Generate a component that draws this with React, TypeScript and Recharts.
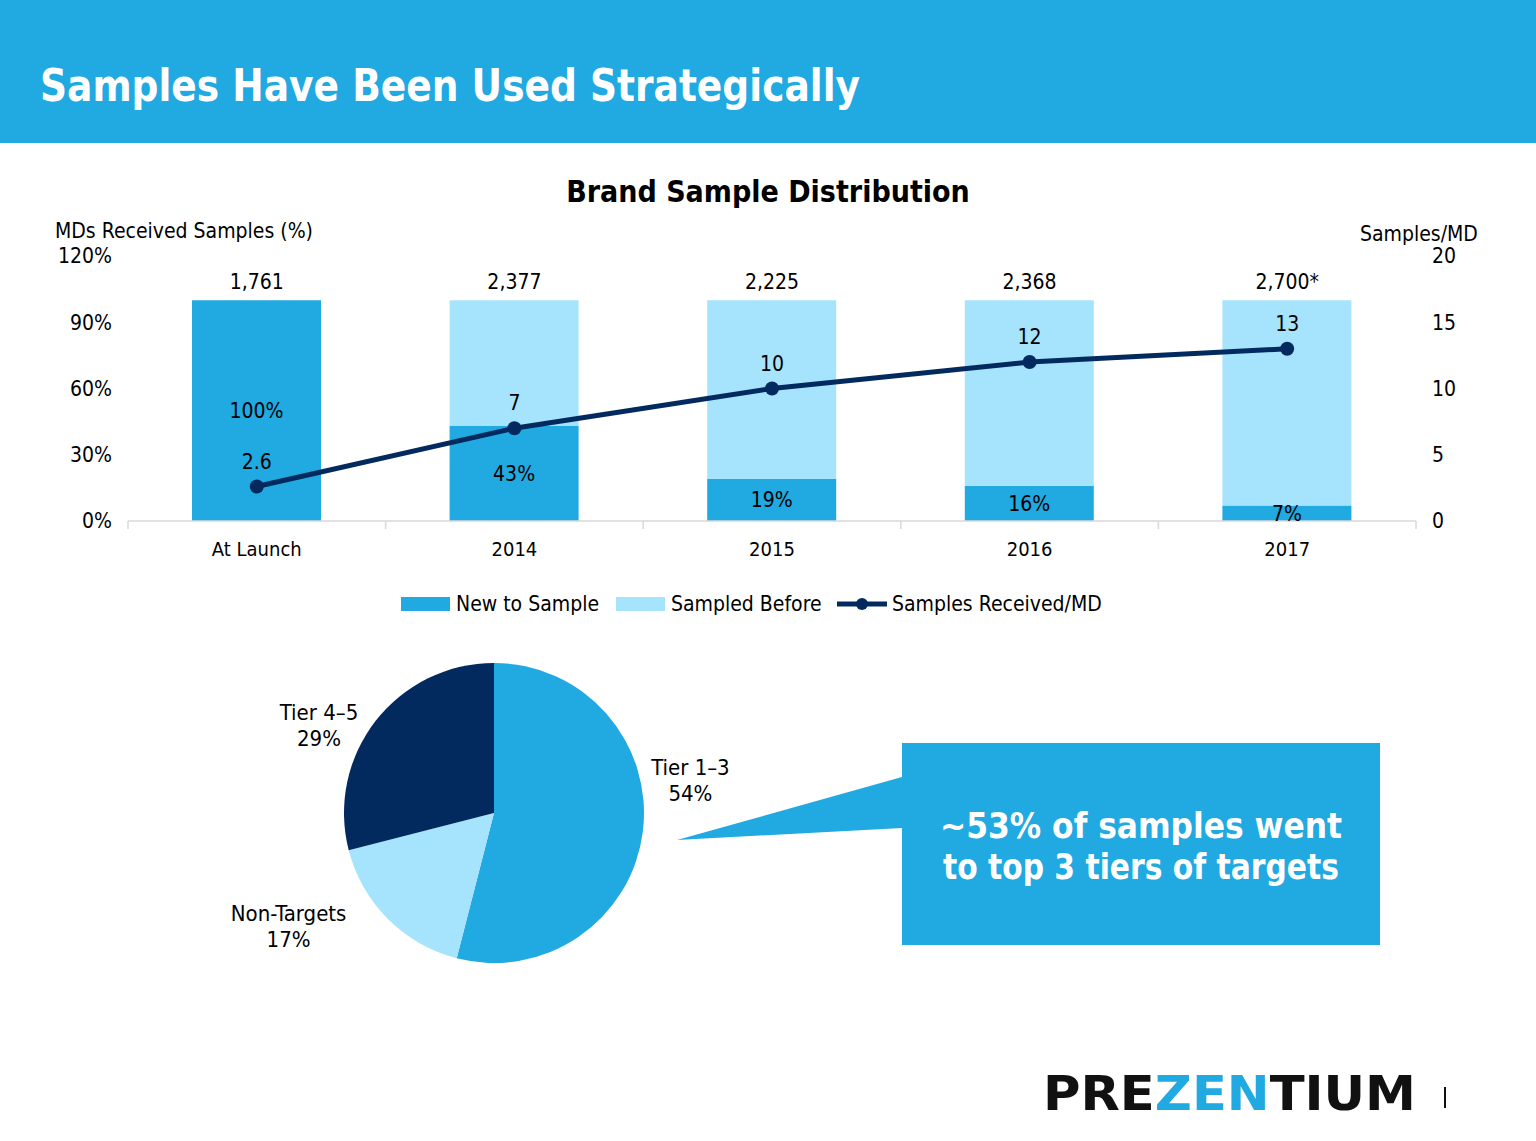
import React from 'react';
import { ComposedChart, Bar, Line, XAxis, YAxis, LabelList, PieChart, Pie, Cell } from 'recharts';

const FONT = "'DejaVu Sans Condensed', 'DejaVu Sans', Verdana, sans-serif";

// ---- data ----
const categories = ['At Launch', '2014', '2015', '2016', '2017'];
const newToSample = [100, 43, 19, 16, 7];
const sampledBefore = [0, 57, 81, 84, 93];
const samplesPerMD = [2.6, 7, 10, 12, 13];
const totalSamples = ['1,761', '2,377', '2,225', '2,368', '2,700*'];
const pctTicks = [0, 30, 60, 90, 120];
const perMDTicks = [0, 5, 10, 15, 20];

const pieNames = ['Tier 1–3', 'Non-Targets', 'Tier 4–5'];
const pieShares = [54, 17, 29];

const BLUE = '#21A9E1';
const LIGHT = '#A6E4FD';
const NAVY = '#032A5E';

const barData = categories.map((name, i) => ({
  name,
  newToSample: newToSample[i],
  sampledBefore: sampledBefore[i],
  stackTop: newToSample[i] + sampledBefore[i],
  perMD: samplesPerMD[i],
  total: totalSamples[i],
}));
const pieData = pieNames.map((name, i) => ({ name, value: pieShares[i] }));
const pieColors = [BLUE, LIGHT, NAVY];

const CategoryTick = (props: any) => {
  const { x, y, payload, index, width, visibleTicksCount } = props;
  const n = visibleTicksCount || categories.length;
  const half = (width || 1288) / n / 2;
  return (
    <g>
      <line x1={x - half} x2={x - half} y1={y - 8} y2={y} stroke="#D9D9D9" strokeWidth={1.5} />
      {index === n - 1 && (
        <line x1={x + half} x2={x + half} y1={y - 8} y2={y} stroke="#D9D9D9" strokeWidth={1.5} />
      )}
      <text x={x} y={y + 27} textAnchor="middle" fontSize={20} fill="#000" fontFamily={FONT}>
        {payload.value}
      </text>
    </g>
  );
};

const LABEL_R = 200;
const NUDGE = [
  [-2, -57],
  [-64, -27],
  [-17, 36],
];
const PieLabel = (p: any) => {
  const RAD = Math.PI / 180;
  const bx = p.cx + LABEL_R * Math.cos(-p.midAngle * RAD);
  const by = p.cy + LABEL_R * Math.sin(-p.midAngle * RAD);
  const [dx, dy] = NUDGE[p.index] || [0, 0];
  const x = bx + dx;
  const y = by + dy;
  return (
    <text x={x} y={y} textAnchor="middle" fontSize={22} fontFamily={FONT} fill="#000">
      <tspan x={x} dy={-6}>{p.name}</tspan>
      <tspan x={x} dy={26}>{`${p.value}%`}</tspan>
    </text>
  );
};

const tickStyle = { fontSize: 21, fill: '#000', fontFamily: FONT };

export default function App() {
  return (
    <div style={{ position: 'relative', width: 1536, height: 1141, overflow: 'hidden', background: '#fff', fontFamily: FONT }}>
      <style>{`body{margin:0}`}</style>
      <svg width={1536} height={1141} style={{ position: 'absolute', left: 0, top: 0 }}>
        <rect x={0} y={0} width={1536} height={143} fill={BLUE} />
        <text x={40} y={101} fill="#fff" fontSize={44} fontWeight="bold" fontFamily={FONT} textLength={820} lengthAdjust="spacingAndGlyphs">
          Samples Have Been Used Strategically
        </text>
        <text x={768} y={202} textAnchor="middle" fill="#000" fontSize={30} fontWeight="bold" fontFamily={FONT}>
          Brand Sample Distribution
        </text>
        <text x={55} y={238} fill="#000" fontSize={21} fontFamily={FONT}>MDs Received Samples (%)</text>
        <text x={1360} y={241} fill="#000" fontSize={21} fontFamily={FONT}>Samples/MD</text>

        {/* legend */}
        <rect x={401} y={597} width={49} height={14} fill={BLUE} />
        <text x={456} y={611} fontSize={21} fontFamily={FONT} fill="#000">New to Sample</text>
        <rect x={616} y={597} width={49} height={14} fill={LIGHT} />
        <text x={671} y={611} fontSize={21} fontFamily={FONT} fill="#000">Sampled Before</text>
        <line x1={837} x2={887} y1={604} y2={604} stroke={NAVY} strokeWidth={5} />
        <circle cx={862} cy={604} r={6} fill={NAVY} />
        <text x={892} y={611} fontSize={21} fontFamily={FONT} fill="#000">Samples Received/MD</text>

        {/* callout */}
        <path d="M902,743 H1380 V945 H902 V828 L677,840 L902,777 Z" fill={BLUE} />
        <text x={940} y={838} fill="#fff" fontSize={35} fontWeight="bold" fontFamily={FONT} textLength={402} lengthAdjust="spacingAndGlyphs">
          ~53% of samples went
        </text>
        <text x={943} y={879} fill="#fff" fontSize={35} fontWeight="bold" fontFamily={FONT} textLength={396} lengthAdjust="spacingAndGlyphs">
          to top 3 tiers of targets
        </text>

        {/* logo */}
        <text x={1043} y={1110} fontSize={48} fontWeight="bold" fontFamily={FONT} textLength={373} lengthAdjust="spacingAndGlyphs" fill="#111">
          PRE<tspan fill={BLUE}>ZEN</tspan>TIUM
        </text>
        <rect x={1444} y={1087} width={2} height={21} fill="#111" />
      </svg>

      <div style={{ position: 'absolute', left: 0, top: 0 }}>
        <ComposedChart
          width={1536}
          height={600}
          data={barData}
          margin={{ top: 256, right: 60, bottom: 39, left: 68 }}
        >
          <XAxis
            dataKey="name"
            height={40}
            axisLine={{ stroke: '#D9D9D9', strokeWidth: 1.5 }}
            tickLine={false}
            tickSize={8}
            tickMargin={0}
            interval={0}
            tick={<CategoryTick />}
          />
          <YAxis
            yAxisId="left"
            domain={[0, 120]}
            ticks={pctTicks}
            interval={0}
            tickFormatter={(v: number) => `${v}%`}
            axisLine={false}
            tickLine={false}
            tickMargin={10}
            width={60}
            tick={tickStyle}
          />
          <YAxis
            yAxisId="right"
            orientation="right"
            domain={[0, 20]}
            ticks={perMDTicks}
            interval={0}
            axisLine={false}
            tickLine={false}
            tickMargin={10}
            width={60}
            tick={{ ...tickStyle, textAnchor: 'start' }}
          />
          <Bar yAxisId="left" dataKey="newToSample" stackId="a" fill={BLUE} barSize={129} isAnimationActive={false}>
            <LabelList
              dataKey="newToSample"
              position="center"
              formatter={(v: any) => `${v}%`}
              fill="#000"
              fontSize={21}
              fontFamily={FONT}
            />
          </Bar>
          <Bar yAxisId="left" dataKey="sampledBefore" stackId="a" fill={LIGHT} barSize={129} isAnimationActive={false} />
          {/* invisible carrier for the total-sample labels above each stack */}
          <Line
            yAxisId="left"
            dataKey="stackTop"
            stroke="none"
            dot={false}
            activeDot={false}
            legendType="none"
            isAnimationActive={false}
          >
            <LabelList dataKey="total" position="top" offset={11} fill="#000" fontSize={21} fontFamily={FONT} />
          </Line>
          <Line
            yAxisId="right"
            dataKey="perMD"
            stroke={NAVY}
            strokeWidth={5}
            dot={{ r: 7, fill: NAVY, stroke: NAVY, strokeWidth: 0 }}
            activeDot={false}
            isAnimationActive={false}
          >
            <LabelList dataKey="perMD" position="top" offset={18} fill="#000" fontSize={21} fontFamily={FONT} />
          </Line>
        </ComposedChart>
      </div>

      <div style={{ position: 'absolute', left: 194, top: 613 }}>
        <PieChart width={600} height={400} margin={{ top: 0, right: 0, bottom: 0, left: 0 }}>
          <Pie
            data={pieData}
            dataKey="value"
            nameKey="name"
            cx={300}
            cy={200}
            outerRadius={150}
            startAngle={90}
            endAngle={-270}
            stroke="none"
            label={PieLabel}
            labelLine={false}
            isAnimationActive={false}
          >
            {pieData.map((d, i) => (
              <Cell key={d.name} fill={pieColors[i]} />
            ))}
          </Pie>
        </PieChart>
      </div>
    </div>
  );
}
